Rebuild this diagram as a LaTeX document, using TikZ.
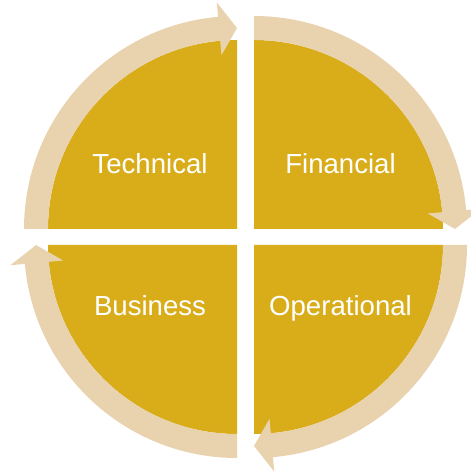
\documentclass[tikz,border=0pt]{standalone}
\usepackage{fontspec}
\setmainfont{Liberation Sans}
\usetikzlibrary{calc}
\definecolor{goldfill}{RGB}{217,173,26}
\definecolor{tanarrow}{RGB}{233,211,175}
\begin{document}
\begin{tikzpicture}[x=1pt,y=1pt,
  sector/.style={fill=goldfill,draw=none},
  cyclearrow/.style={fill=tanarrow,draw=none},
  label/.style={text=white,font=\fontsize{27.6}{31}\selectfont,anchor=base,inner sep=0pt}]
\useasboundingbox (0,0) rectangle (471,472);
% corners of the four quarter disks
\coordinate (tl) at (237,243);
\coordinate (tr) at (254,243);
\coordinate (br) at (254,227);
\coordinate (bl) at (237,227);
% quarter disks and the curved arrows around them (clockwise)
\foreach \c/\s in {tl/180, tr/90, br/0, bl/-90}{
  \pgfmathsetmacro{\e}{\s-90}
  \pgfmathsetmacro{\h}{\s-90+5.1}
  \fill[sector] (\c) -- ($(\c)+(\s:189pt)$) arc[start angle=\s,end angle=\e,radius=189pt] -- cycle;
  \fill[cyclearrow] ($(\c)+(\s:213pt)$) arc[start angle=\s,end angle=\h,radius=213pt]
    -- ($(\c)+(\h:227.5pt)$) -- ($(\c)+(\e:201pt)$) -- ($(\c)+(\h:174.5pt)$)
    -- ($(\c)+(\h:189pt)$) arc[start angle=\h,end angle=\s,radius=189pt] -- cycle;
}
\node[label] (technical) at (150,298) {Technical};
\node[label] (financial) at (340.5,298) {Financial};
\node[label] (business) at (150,156) {Business};
\node[label] (operational) at (340.5,156) {Operational};
\end{tikzpicture}
\end{document}
